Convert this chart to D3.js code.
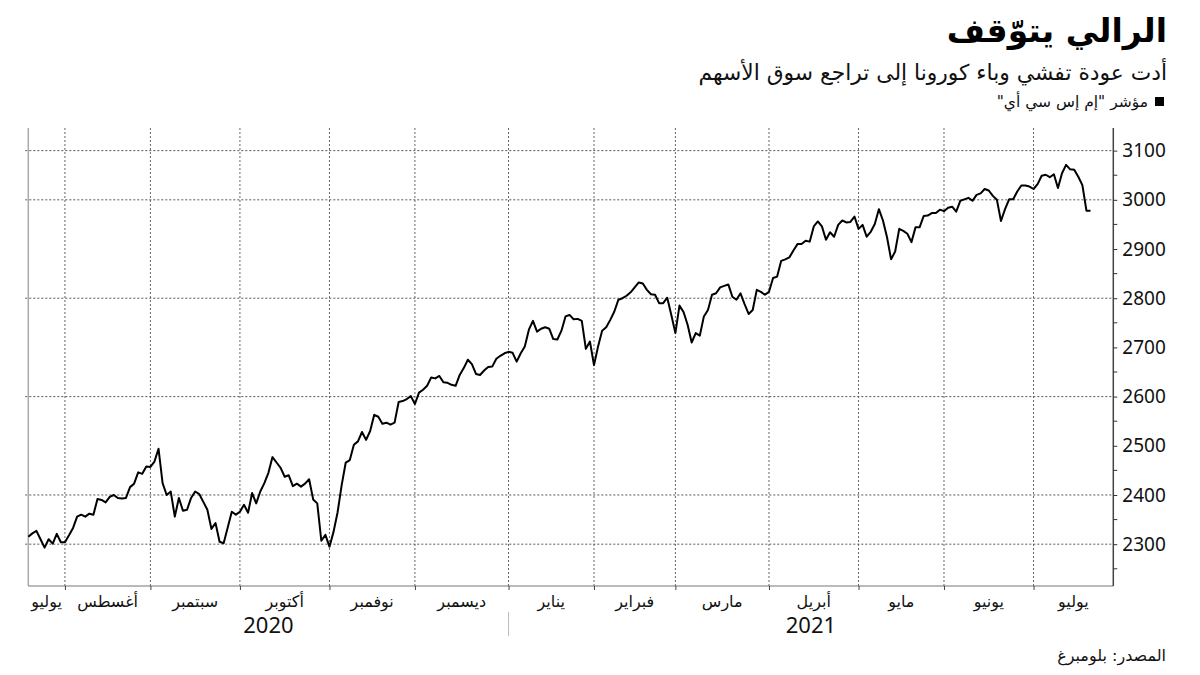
<!DOCTYPE html>
<html><head><meta charset="utf-8">
<script src="https://cdn.jsdelivr.net/npm/d3@7"></script>
<style>body{margin:0;background:#fff}svg{display:block}</style>
</head><body><svg id="c" width="1200" height="675"></svg>
<script>
const title = "الرالي يتوّقف";
const subtitle = "أدت عودة تفشي وباء كورونا إلى تراجع سوق الأسهم";
const legendLabel = 'مؤشر "إم إس سي أي"';
const sourceLabel = "المصدر: بلومبرغ";
const startDate = [2020, 6, 21]; // first trading day shown (weekday series)
const monthNames = ["يناير","فبراير","مارس","أبريل","مايو","يونيو","يوليو","أغسطس","سبتمبر","أكتوبر","نوفمبر","ديسمبر"];
const yTicks = [2300,2400,2500,2600,2700,2800,2900,3000,3100];
const yGrid = [2300,2400,2600,2800,3000,3100];
const values = [
2315,2322,2327,2310,2293,2310,2301,2321,2304,2304,
2318,2333,2356,2360,2356,2362,2360,2392,2390,2385,
2396,2400,2394,2393,2394,2416,2423,2446,2443,2458,
2457,2468,2494,2424,2400,2407,2356,2394,2368,2370,
2394,2407,2402,2386,2370,2331,2343,2305,2302,2334,
2366,2360,2366,2380,2364,2404,2383,2407,2424,2445,
2477,2466,2455,2437,2440,2418,2423,2417,2423,2432,
2391,2383,2307,2319,2295,2325,2365,2420,2466,2471,
2502,2509,2528,2512,2530,2563,2559,2545,2547,2543,
2547,2589,2591,2595,2601,2585,2608,2614,2622,2639,
2637,2642,2629,2628,2624,2622,2644,2658,2675,2666,
2646,2644,2653,2660,2661,2677,2683,2688,2691,2689,
2671,2688,2702,2736,2754,2732,2738,2741,2738,2717,
2716,2734,2763,2766,2757,2758,2754,2697,2712,2664,
2702,2734,2741,2756,2773,2797,2800,2805,2812,2822,
2832,2830,2817,2808,2807,2790,2790,2801,2766,2729,
2785,2772,2746,2710,2729,2724,2763,2776,2807,2810,
2822,2825,2828,2803,2797,2810,2788,2768,2776,2817,
2813,2807,2813,2841,2844,2876,2879,2883,2897,2910,
2910,2917,2915,2946,2956,2946,2919,2934,2925,2949,
2958,2954,2955,2966,2941,2949,2925,2935,2951,2981,
2958,2924,2879,2895,2941,2937,2931,2914,2944,2944,
2967,2968,2973,2973,2980,2977,2984,2986,2976,2998,
3001,3004,2998,3010,3013,3022,3019,3008,3000,2957,
2981,3001,3001,3017,3029,3029,3027,3022,3032,3049,
3051,3046,3052,3024,3054,3071,3062,3061,3047,3030,
2978,2978
];

// weekday calendar for the series
const dates = [];
{ const d = new Date(startDate[0], startDate[1], startDate[2]);
  while (dates.length < values.length) {
    const w = d.getDay();
    if (w !== 0 && w !== 6) dates.push(new Date(d));
    d.setDate(d.getDate() + 1);
  } }
const data = values.map((v, i) => ({i, date: dates[i], v}));

const svg = d3.select("#c");
const L = 28.3, R = 1113.3, T = 128, B = 586;
const x = d3.scaleLinear().domain([0, 266.6]).range([L, R]);
const y = d3.scaleLinear().domain([2215, 3146]).range([B, T]);
const AR = "'DejaVu Sans', sans-serif";

// month boundaries (first weekday of each month)
const monthStarts = data.filter((d, i) => i > 0 && d.date.getMonth() !== data[i-1].date.getMonth());
const bounds = [L, ...monthStarts.map(d => x(d.i)), R];
const monthSegs = [data[0], ...monthStarts].map((d, k) => ({m: d.date.getMonth(), yr: d.date.getFullYear(), x0: bounds[k], x1: bounds[k+1]}));

// vertical grid
svg.append("g").selectAll("line").data(monthStarts).join("line")
  .attr("x1", d => x(d.i)).attr("x2", d => x(d.i))
  .attr("y1", T).attr("y2", B)
  .attr("stroke", "#666").attr("stroke-width", 1).attr("stroke-dasharray", "2,2");

// horizontal grid
svg.append("g").selectAll("line").data(yGrid).join("line")
  .attr("x1", L - 3).attr("x2", R)
  .attr("y1", d => y(d)).attr("y2", d => y(d))
  .attr("stroke", "#555").attr("stroke-width", 1).attr("stroke-dasharray", "2,2");

// left axis line
svg.append("line").attr("x1", L).attr("x2", L).attr("y1", T).attr("y2", B)
  .attr("stroke", "#aaa").attr("stroke-width", 1.5);

// bottom axis
const xAxis = d3.axisBottom(x).tickValues(monthStarts.map(d => d.i)).tickSize(4).tickFormat("");
const gx = svg.append("g").attr("transform", `translate(0,${B})`).call(xAxis);
gx.select(".domain").attr("stroke", "#777").attr("d", `M${L},0H${R}`);
gx.selectAll(".tick line").attr("stroke", "#444");

// right axis
const yAxis = d3.axisRight(y).tickValues(yTicks).tickSize(4).tickFormat(d3.format("d"));
const gy = svg.append("g").attr("transform", `translate(${R},0)`).call(yAxis);
gy.select(".domain").attr("stroke", "#444").attr("stroke-width", 1.5).attr("d", `M0,${T}V${B}`);
gy.selectAll(".tick line").attr("stroke", "#333");
gy.selectAll(".tick text").attr("x", 9).attr("fill", "#111")
  .style("font-family", "'Noto Sans', sans-serif").style("font-size", "19px");
const minor = d3.range(2250, 3150, 100);
gy.append("g").selectAll("line").data(minor).join("line")
  .attr("x1", 0).attr("x2", 4).attr("y1", d => y(d)).attr("y2", d => y(d)).attr("stroke", "#333");

// line
svg.append("path").datum(data)
  .attr("fill", "none").attr("stroke", "#000").attr("stroke-width", 2).attr("stroke-linejoin", "round")
  .attr("d", d3.line().x(d => x(d.i)).y(d => y(d.v)));

// month labels
svg.append("g").selectAll("text").data(monthSegs).join("text")
  .attr("x", d => (d.x0 + d.x1) / 2).attr("y", 607)
  .attr("text-anchor", "middle").attr("direction", "rtl")
  .style("font-family", AR).style("font-size", "16px").attr("fill", "#111")
  .text(d => monthNames[d.m]);

// year labels
const years = d3.groups(monthSegs, d => d.yr).map(([yr, segs]) => ({yr, x0: d3.min(segs, s => s.x0), x1: d3.max(segs, s => s.x1)}));
svg.append("g").selectAll("text").data(years).join("text")
  .attr("x", d => (d.x0 + d.x1) / 2).attr("y", 633)
  .attr("text-anchor", "middle")
  .style("font-family", "'Noto Sans', sans-serif").style("font-size", "22px").attr("fill", "#111")
  .text(d => d.yr);
svg.append("g").selectAll("line").data(years.slice(1)).join("line")
  .attr("x1", d => d.x0).attr("x2", d => d.x0).attr("y1", 612).attr("y2", 636)
  .attr("stroke", "#bbb").attr("stroke-width", 1);

// titles
svg.append("text").attr("x", 1167).attr("y", 42).attr("direction", "rtl").attr("text-anchor", "start")
  .style("font-family", AR).style("font-size", "33px").style("font-weight", "bold").attr("fill", "#000").text(title);
svg.append("text").attr("x", 1167).attr("y", 80).attr("direction", "rtl").attr("text-anchor", "start")
  .style("font-family", AR).style("font-size", "21.8px").attr("fill", "#111").text(subtitle);
svg.append("rect").attr("x", 1155).attr("y", 97).attr("width", 9).attr("height", 9).attr("fill", "#000");
svg.append("text").attr("x", 1148).attr("y", 107).attr("direction", "rtl").attr("text-anchor", "start")
  .style("font-family", AR).style("font-size", "15.5px").attr("fill", "#111").text(legendLabel);
svg.append("text").attr("x", 1166).attr("y", 661).attr("direction", "rtl").attr("text-anchor", "start")
  .style("font-family", AR).style("font-size", "16px").attr("fill", "#111").text(sourceLabel);
</script></body></html>
